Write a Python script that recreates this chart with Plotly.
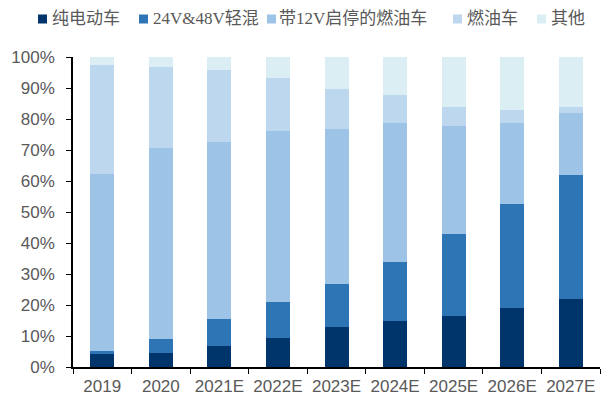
import plotly.graph_objects as go

# Vehicle powertrain mix by year (share of total, %)
years = ["2019", "2020", "2021E", "2022E", "2023E", "2024E", "2025E", "2026E", "2027E"]
bev = [4.3, 4.5, 6.9, 9.2, 12.8, 14.7, 16.6, 19.0, 21.9]
mhev_48v = [1.0, 4.4, 8.7, 11.9, 13.9, 19.1, 26.2, 33.7, 40.0]
ss_12v = [56.8, 61.8, 57.1, 55.1, 50.0, 45.0, 34.9, 26.1, 20.0]
ice = [35.2, 26.1, 23.0, 17.0, 13.1, 9.0, 6.1, 4.0, 1.9]
other = [2.7, 3.2, 4.3, 6.8, 10.2, 12.2, 16.2, 17.2, 16.2]

names = ["纯电动车", "24V&48V轻混", "带12V启停的燃油车", "燃油车", "其他"]
colors = ["#00356B", "#2E75B6", "#9DC3E6", "#BDD7EE", "#DAEEF3"]
values = [bev, mhev_48v, ss_12v, ice, other]

# Figure geometry (px)
W, H = 601, 397
M_L, M_R, M_T, M_B = 73, 1, 57, 30
PW, PH = W - M_L - M_R, H - M_T - M_B

def px_to_paper_x(px):
    return (px - M_L) / PW

def px_to_paper_y(py):
    return (H - M_B - py) / PH

# Top legend row: swatch left edge and label start, in px
swatch_left = [38, 139, 267, 453, 537]
label_left = [50, 151, 277, 465, 549]
SWATCH = 9
ROW_Y = 18

TEXT_GREY = "#595959"

fig = go.Figure()
for name, vals, color in zip(names, values, colors):
    fig.add_trace(go.Bar(
        x=years, y=vals, name=name, showlegend=False,
        marker=dict(color=color, line=dict(width=0)),
    ))

shapes = []
annotations = []
for name, color, sx, tx in zip(names, colors, swatch_left, label_left):
    shapes.append(dict(
        type="rect", xref="paper", yref="paper",
        x0=px_to_paper_x(sx), x1=px_to_paper_x(sx + SWATCH),
        y0=px_to_paper_y(ROW_Y - SWATCH / 2 + 1), y1=px_to_paper_y(ROW_Y + SWATCH / 2 + 1),
        fillcolor=color, line=dict(width=0),
    ))
    annotations.append(dict(
        text=name, xref="paper", yref="paper",
        x=px_to_paper_x(tx), y=px_to_paper_y(ROW_Y),
        xanchor="left", yanchor="middle", showarrow=False,
        font=dict(family="Liberation Serif, Noto Sans CJK SC", size=17, color=TEXT_GREY),
    ))

fig.update_layout(
    barmode="stack",
    bargap=0.59,
    width=W, height=H,
    margin=dict(l=M_L, r=M_R, t=M_T, b=M_B, autoexpand=False),
    paper_bgcolor="white", plot_bgcolor="white",
    font=dict(family="Liberation Sans, Arial, sans-serif", size=17, color=TEXT_GREY),
    shapes=shapes,
    annotations=annotations,
)

fig.update_xaxes(
    showline=True, linecolor="black", linewidth=1.5,
    ticks="outside", tickson="boundaries", ticklen=5, tickcolor="black",
    tickfont=dict(size=17, color=TEXT_GREY), ticklabelstandoff=3,
)
fig.update_yaxes(
    range=[0, 100], dtick=10, ticksuffix="%",
    showline=True, linecolor="black", linewidth=1.5,
    ticks="outside", ticklen=5, tickcolor="black",
    showgrid=False, zeroline=False,
    tickfont=dict(size=17, color=TEXT_GREY), ticklabelstandoff=8,
)

fig.write_html("out.html")
